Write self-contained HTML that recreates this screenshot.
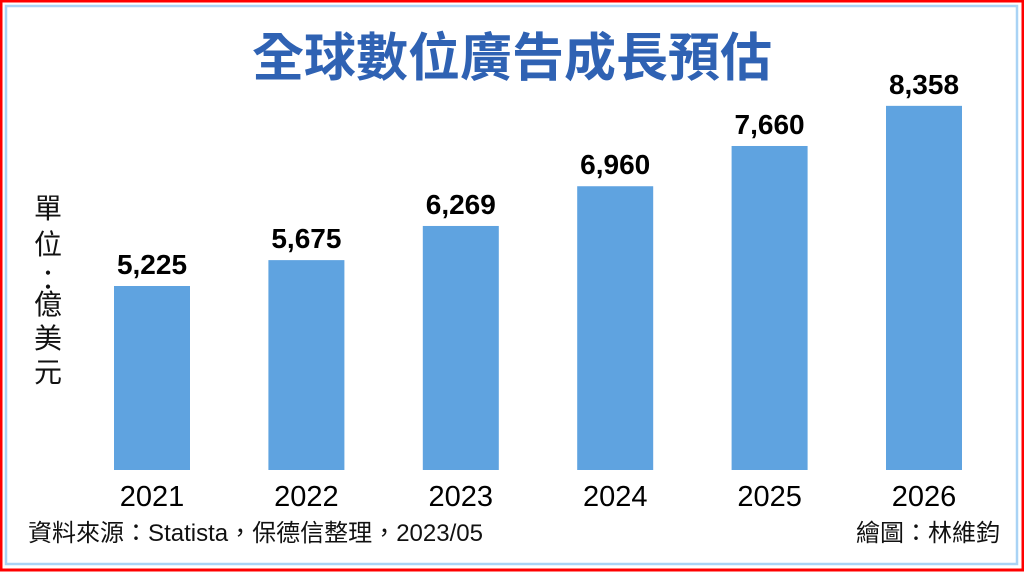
<!DOCTYPE html>
<html><head><meta charset="utf-8"><style>
body{margin:0;width:1024px;height:572px;overflow:hidden;background:#fff;font-family:"Liberation Sans","Noto Sans CJK TC",sans-serif}
</style></head><body>
<svg width="1024" height="572">
<rect x="1" y="1" width="1022" height="569" fill="none" stroke="#f00" stroke-width="3"/>
<rect x="6" y="6" width="1011" height="558" fill="none" stroke="#a9d3f5" stroke-width="2.5"/>
<text x="512" y="76" text-anchor="middle" font-size="52" font-weight="bold" fill="#2f62b3" font-family="Liberation Sans,Noto Sans CJK TC,sans-serif">全球數位廣告成長預估</text>
<g font-size="28" fill="#111">
<text x="48" y="218" text-anchor="middle">單</text>
<text x="48" y="254" text-anchor="middle">位</text>
<text x="48" y="290" text-anchor="middle">：</text>
<text x="48" y="314" text-anchor="middle">億</text>
<text x="48" y="348" text-anchor="middle">美</text>
<text x="48" y="382" text-anchor="middle">元</text>
</g>
<g id="bars"></g>
<text x="28" y="541" font-size="24" textLength="455" lengthAdjust="spacingAndGlyphs" fill="#111">資料來源：Statista，保德信整理，2023/05</text>
<text x="1000" y="541" text-anchor="end" font-size="24" fill="#111">繪圖：林維鈞</text>
</svg>
<script>
const categories=["2021","2022","2023","2024","2025","2026"];
const values=[5225,5675,6269,6960,7660,8358];
const labels=["5,225","5,675","6,269","6,960","7,660","8,358"];
const NS="http://www.w3.org/2000/svg";
const base=470, yMin=2025, k=0.0575;
function y(v){return base-(v-yMin)*k;}
function x(i){return 152+i*154.4;}
const g=document.getElementById('bars');
categories.forEach((c,i)=>{
 const r=document.createElementNS(NS,'rect');
 r.setAttribute('x',x(i)-38);r.setAttribute('y',y(values[i]));
 r.setAttribute('width',76);r.setAttribute('height',base-y(values[i]));
 r.setAttribute('fill','#5fa3e0');
 
 
 g.appendChild(r);
 const t=document.createElementNS(NS,'text');
 t.setAttribute('x',x(i));t.setAttribute('y',y(values[i])-12);
 t.setAttribute('text-anchor','middle');t.setAttribute('font-size','28');t.setAttribute('font-weight','bold');
 t.textContent=labels[i];
 
 
 g.appendChild(t);
 const l=document.createElementNS(NS,'text');
 l.setAttribute('x',x(i));l.setAttribute('y',506);
 l.setAttribute('text-anchor','middle');l.setAttribute('font-size','29');
 l.textContent=c;
 
 
 g.appendChild(l);
});
</script>
</body></html>
